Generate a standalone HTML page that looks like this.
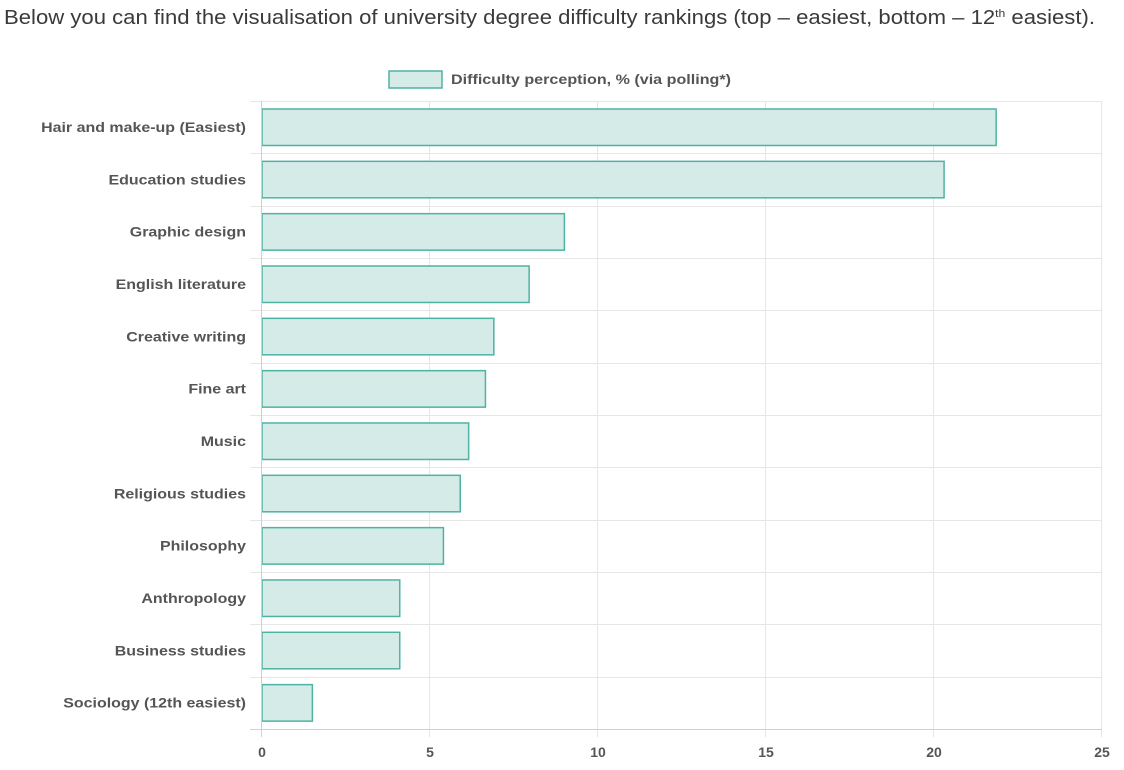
<!DOCTYPE html>
<html><head><meta charset="utf-8"><style>
body{margin:0;background:#fff;width:1124px;height:770px;overflow:hidden}
svg{display:block}
</style></head><body>
<svg width="1124" height="770" xmlns="http://www.w3.org/2000/svg" font-family="Liberation Sans, sans-serif">
<text x="4" y="24" font-size="20" fill="#3a3a3a" textLength="1091" lengthAdjust="spacingAndGlyphs">Below you can find the visualisation of university degree difficulty rankings (top – easiest, bottom – 12<tspan font-size="11" dy="-7">th</tspan><tspan dy="7"> easiest).</tspan></text>
<rect x="389" y="71" width="53" height="17" fill="#d4ebe7" stroke="#4fb3a3" stroke-width="1.5"/>
<text id="lg" x="451" y="84" font-size="14" font-weight="bold" fill="#555" textLength="280" lengthAdjust="spacingAndGlyphs">Difficulty perception, % (via polling*)</text>
<g stroke="#e6e6e6" stroke-width="1">
<line x1="429.5" y1="101" x2="429.5" y2="737"/>
<line x1="597.5" y1="101" x2="597.5" y2="737"/>
<line x1="765.5" y1="101" x2="765.5" y2="737"/>
<line x1="933.5" y1="101" x2="933.5" y2="737"/>
<line x1="1101.5" y1="101" x2="1101.5" y2="737"/>
</g>
<g id="h" stroke="#e6e6e6"></g>
<g fill="#555" font-size="14" font-weight="bold" text-anchor="middle">
<text x="262" y="757">0</text><text x="430" y="757">5</text><text x="598" y="757">10</text><text x="766" y="757">15</text><text x="934" y="757">20</text><text x="1102" y="757">25</text>
</g>
<g id="bars"></g>
<line x1="261.5" y1="101" x2="261.5" y2="737" stroke="#d0d0d0"/>
<line x1="250" y1="729.5" x2="1102" y2="729.5" stroke="#d0d0d0"/>
<script>
var d=[["Hair and make-up (Easiest)",21.85],["Education studies",20.3],["Graphic design",9],["English literature",7.95],["Creative writing",6.9],["Fine art",6.65],["Music",6.15],["Religious studies",5.9],["Philosophy",5.4],["Anthropology",4.1],["Business studies",4.1],["Sociology (12th easiest)",1.5]];
var ns="http://www.w3.org/2000/svg",b=document.getElementById("bars"),h=document.getElementById("h");
function el(t,a,p){var e=document.createElementNS(ns,t);for(var k in a)e.setAttribute(k,a[k]);p.appendChild(e);return e;}
for(var i=0;i<=12;i++){var y=Math.round(101+i*52.33)+0.5;el("line",{x1:250,y1:y,x2:1102,y2:y},h);}
d.forEach(function(r,i){var top=101+i*52.33;
el("rect",{x:262,y:top+8,width:r[1]*33.6,height:36.5,fill:"#d4ebe7",stroke:"#4fb3a3","stroke-width":1.5},b);
var t=el("text",{x:246,y:top+31,"text-anchor":"end","font-size":"14","font-weight":"bold",fill:"#555"},b);t.textContent=r[0];
var L=t.getComputedTextLength();t.setAttribute("textLength",L*1.14);t.setAttribute("lengthAdjust","spacingAndGlyphs");});
</script>
</svg>
</body></html>
